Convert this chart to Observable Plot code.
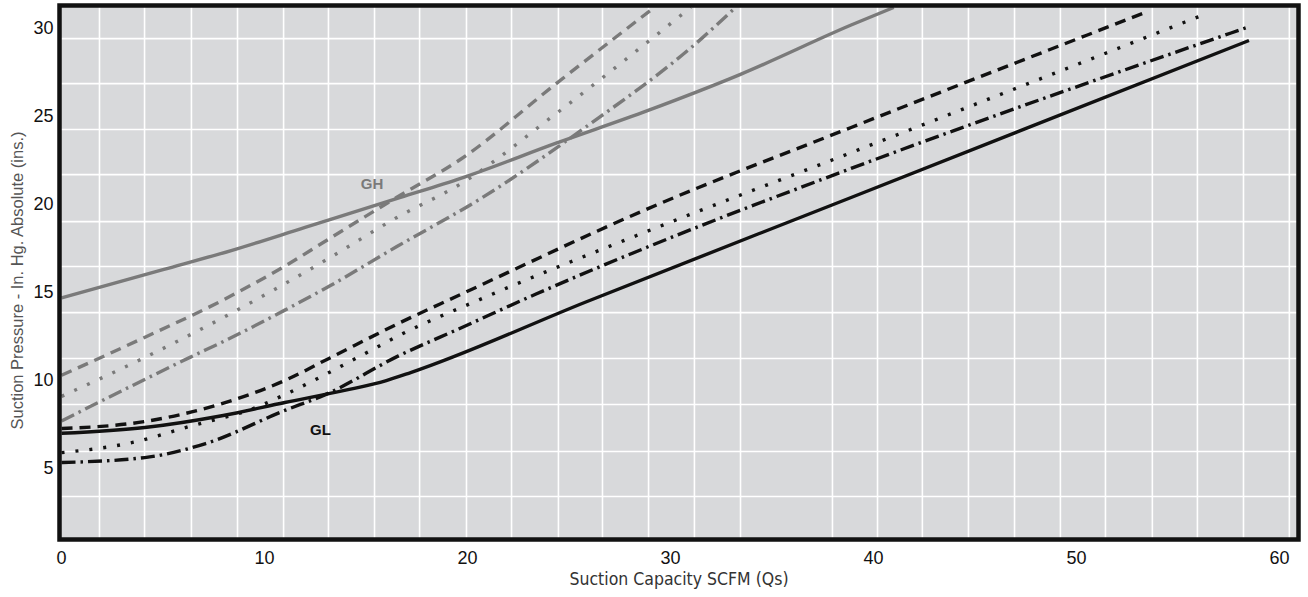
<!DOCTYPE html>
<html><head><meta charset="utf-8">
<script src="https://cdn.jsdelivr.net/npm/d3@7"></script>
<script src="https://cdn.jsdelivr.net/npm/@observablehq/plot@0.6"></script>
<style>
html,body{margin:0;padding:0;background:#fff;}
</style>
</head><body><div id="chart"></div>
<script>
// ---- data ----
const xTicks = [0, 10, 20, 30, 40, 50, 60];
const yTicks = [5, 10, 15, 20, 25, 30];
// background grid of the original sheet (not aligned with the ticks)
const xGrid = [1.87, 4.09, 6.40, 8.67, 10.94, 13.15, 15.42, 17.64, 19.95, 22.17, 24.48, 26.65, 28.92, 31.18, 33.45, 37.98, 40.20, 42.41, 44.68, 46.95, 49.21, 51.43, 53.74, 55.96, 58.23, 60.49];
const yGrid = [29.43, 26.87, 24.26, 21.70, 19.03, 16.48, 13.86, 11.25, 8.64, 5.97, 3.41];

const ghSolid   = [[0,14.7],[5,16.3],[8.4,17.4],[12,18.7],[16.7,20.4],[19.7,21.5],[24.4,23.5],[28.9,25.35],[33.45,27.4],[38.9,30.2],[41,31.2]];
const ghDashed  = [[0,10.3],[4,12.4],[8,14.6],[11,16.5],[13.25,18.1],[16.5,20.4],[19.7,22.6],[24.4,26.9],[29.2,31.2]];
const ghDotted  = [[0,9.1],[4,11.25],[8,13.6],[11,15.5],[13.25,17.0],[16.5,19.25],[19.7,21.2],[24.4,25.2],[31,31.2]];
const ghDashDot = [[0,7.7],[6.3,11.3],[8.3,12.4],[11,14.0],[13.25,15.4],[16.5,17.6],[20.6,20.3],[25.7,24.3],[31.5,29.4],[33.2,31.2]];

const glSolid   = [[0,7.0],[4.1,7.33],[7.9,8.0],[11,8.75],[14,9.45],[16,10.0],[17.2,10.45],[25.8,14.45],[38.9,20.4],[58.5,29.32]];
const glDashed  = [[0,7.27],[4.1,7.67],[7.9,8.69],[11,10.0],[13.25,11.3],[16.7,13.3],[19.5,14.8],[28.9,19.77],[38.9,24.38],[53.25,30.85]];
const glDotted  = [[0,5.9],[3.5,6.48],[6.3,7.39],[9.56,8.46],[11,9.2],[14.9,11.5],[16.7,12.6],[20.6,14.6],[28.9,18.5],[38.9,22.95],[56.3,30.8]];
const glDashDot = [[0,5.34],[4.1,5.62],[7.1,6.42],[11,8.3],[13,9.2],[16.6,11.4],[19.7,13.0],[23.35,14.9],[28.9,17.6],[38.9,22.05],[58.5,30.1]];

const curveLabels = [
  {x: 15.3, y: 21.14, text: "GH", group: "GH"},
  {x: 12.76, y: 7.16, text: "GL", group: "GL"}
];
const xTitle = "Suction Capacity SCFM (Qs)";
const yTitle = "Suction Pressure - In. Hg. Absolute (ins.)";

// ---- styles ----
const GRAY = "#7a7a7a", BLACK = "#111";
const DASH = "11,7", DOT = "3,11", DASHDOT = "14,5,2.5,5";
const series = [
  {pts: ghSolid, stroke: GRAY, dash: null},
  {pts: ghDashed, stroke: GRAY, dash: DASH},
  {pts: ghDotted, stroke: GRAY, dash: DOT},
  {pts: ghDashDot, stroke: GRAY, dash: DASHDOT},
  {pts: glSolid, stroke: BLACK, dash: null},
  {pts: glDashed, stroke: BLACK, dash: DASH},
  {pts: glDotted, stroke: BLACK, dash: DOT},
  {pts: glDashDot, stroke: BLACK, dash: DASHDOT}
];

const chart = Plot.plot({
  width: 1308, height: 597,
  marginLeft: 59, marginRight: 10, marginTop: 5, marginBottom: 58,
  x: {domain: [-0.1, 60.94]},
  y: {domain: [0.966, 31.31]},
  style: {background: "#fff", fontFamily: "'Liberation Sans', Arial, sans-serif", fontSize: "18px", color: "#111"},
  marks: [
    Plot.frame({fill: "#d8d9db"}),
    Plot.ruleX(xGrid, {stroke: "#fff", strokeWidth: 1.6}),
    Plot.ruleY(yGrid, {stroke: "#fff", strokeWidth: 1.6}),
    ...series.map(s => Plot.line(s.pts, {
      x: d => d[0], y: d => d[1], stroke: s.stroke, strokeWidth: 3.4,
      strokeDasharray: s.dash, strokeLinecap: "butt", curve: "monotone-x", clip: true
    })),
    Plot.text(curveLabels, {x: "x", y: "y", text: "text", fontWeight: "bold", fontSize: 15,
      fill: d => d.group === "GH" ? GRAY : BLACK}),
    Plot.axisX(xTicks, {tickSize: 0, tickPadding: 12, label: null, fontSize: 18, fill: "#111"}),
    Plot.axisY(yTicks, {tickSize: 0, tickPadding: 6, label: null, fontSize: 18, fill: "#111"}),
    Plot.text([xTitle], {frameAnchor: "bottom", dy: 45, text: d => d, textAnchor: "middle",
      fontFamily: "'Liberation Sans Narrow', 'DejaVu Sans Condensed', sans-serif", fontSize: 17.5, fill: "#333"}),
    Plot.text([yTitle], {frameAnchor: "left", rotate: -90, dx: -42, dy: 8, text: d => d, textAnchor: "middle",
      fontSize: 16.5, fill: "#555"}),
    Plot.frame({stroke: "#111", strokeWidth: 4.5})
  ]
});
document.getElementById("chart").appendChild(chart);
</script>
</body></html>
